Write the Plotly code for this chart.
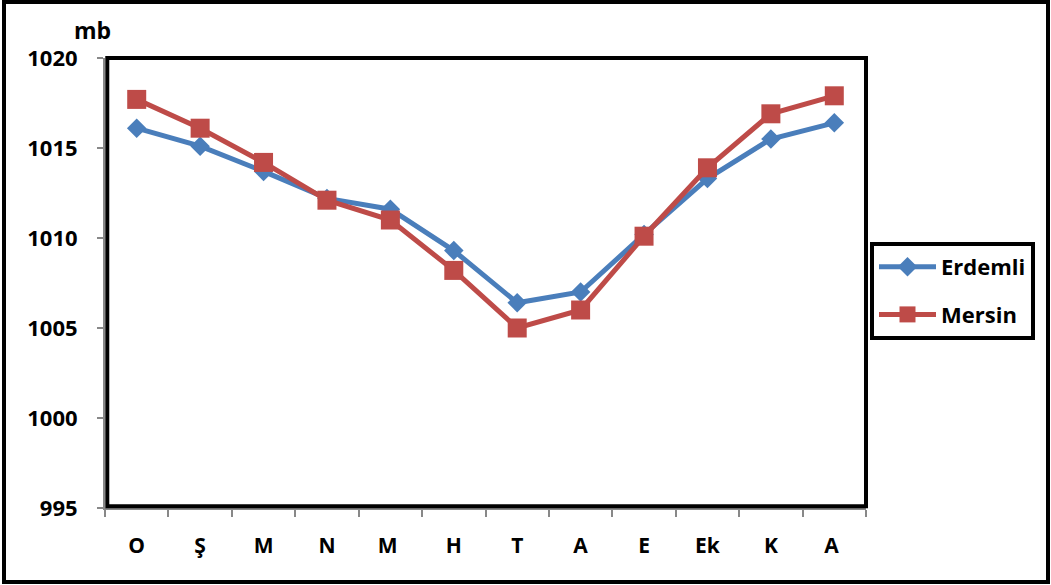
import plotly.graph_objects as go

# Monthly mean pressure (mb)
months = ["O", "Ş", "M", "N", "M ", "H", "T", "A", "E", "Ek", "K", "A "]
erdemli = [1016.1, 1015.1, 1013.7, 1012.2, 1011.6, 1009.3, 1006.4, 1007.0, 1010.2, 1013.3, 1015.5, 1016.4]
mersin = [1017.7, 1016.1, 1014.2, 1012.1, 1011.0, 1008.2, 1005.0, 1006.0, 1010.1, 1013.9, 1016.9, 1017.9]
y_ticks = [995, 1000, 1005, 1010, 1015, 1020]

W, H = 1051, 585
L, R, T, B = 105, 185, 58, 77
PW, PH = W - L - R, H - T - B

FONT = "Open Sans"
BLUE = "#4A7EBB"
RED = "#BE4B48"


def px_x(p):
    return (p - L) / PW


def px_y(p):
    return (H - B - p) / PH


fig = go.Figure()
fig.add_trace(go.Scatter(
    x=months, y=erdemli, name="Erdemli", mode="lines+markers",
    line=dict(color=BLUE, width=5),
    marker=dict(symbol="diamond", size=15, color=BLUE),
    legendgroup="a",
))
fig.add_trace(go.Scatter(
    x=months, y=mersin, name="Mersin", mode="lines+markers",
    line=dict(color=RED, width=5),
    marker=dict(symbol="square", size=19, color=RED),
    legendgroup="b",
))

fig.update_layout(
    width=W, height=H,
    margin=dict(l=L, r=R, t=T, b=B),
    paper_bgcolor="white", plot_bgcolor="white",
    font=dict(family=FONT, color="black"),
    showlegend=True,
    legend=dict(
        x=px_x(870), y=px_y(242), xanchor="left", yanchor="top",
        bordercolor="black", borderwidth=4,
        font=dict(family=FONT, size=22, weight="bold", color="black"),
        tracegroupgap=16, traceorder="grouped",
        itemwidth=57,
    ),
    xaxis=dict(
        type="category",
        showgrid=False, zeroline=False,
        showline=True, linecolor="#888888", linewidth=2,
        ticks="outside", tickson="boundaries", ticklen=7, tickcolor="#888888", tickwidth=2,
        tickfont=dict(family=FONT, size=21, weight="bold", color="black"),
        ticklabelstandoff=18,
        range=[-0.5, 11.5],
    ),
    yaxis=dict(
        range=[995, 1020],
        tickvals=y_ticks,
        showgrid=False, zeroline=False,
        showline=True, linecolor="#888888", linewidth=2,
        ticks="outside", ticklen=6, tickcolor="#888888", tickwidth=2,
        tickfont=dict(family=FONT, size=22, weight="bold", color="black"),
        ticklabelstandoff=15,
    ),
    shapes=[
        # plot frame
        dict(type="rect", xref="paper", yref="paper", x0=0.003, x1=1, y0=0.004, y1=1,
             line=dict(color="black", width=4), layer="above"),
        # figure border
        dict(type="rect", xref="paper", yref="paper",
             x0=px_x(4), x1=px_x(1048), y0=px_y(582), y1=px_y(2),
             line=dict(color="black", width=4), layer="above"),
    ],
    annotations=[
        dict(text="mb", xref="paper", yref="paper", x=px_x(92), y=px_y(30),
             xanchor="center", yanchor="middle",
             showarrow=False, font=dict(family=FONT, size=23, weight="bold", color="black")),
    ],
)

fig.write_html("out.html")
